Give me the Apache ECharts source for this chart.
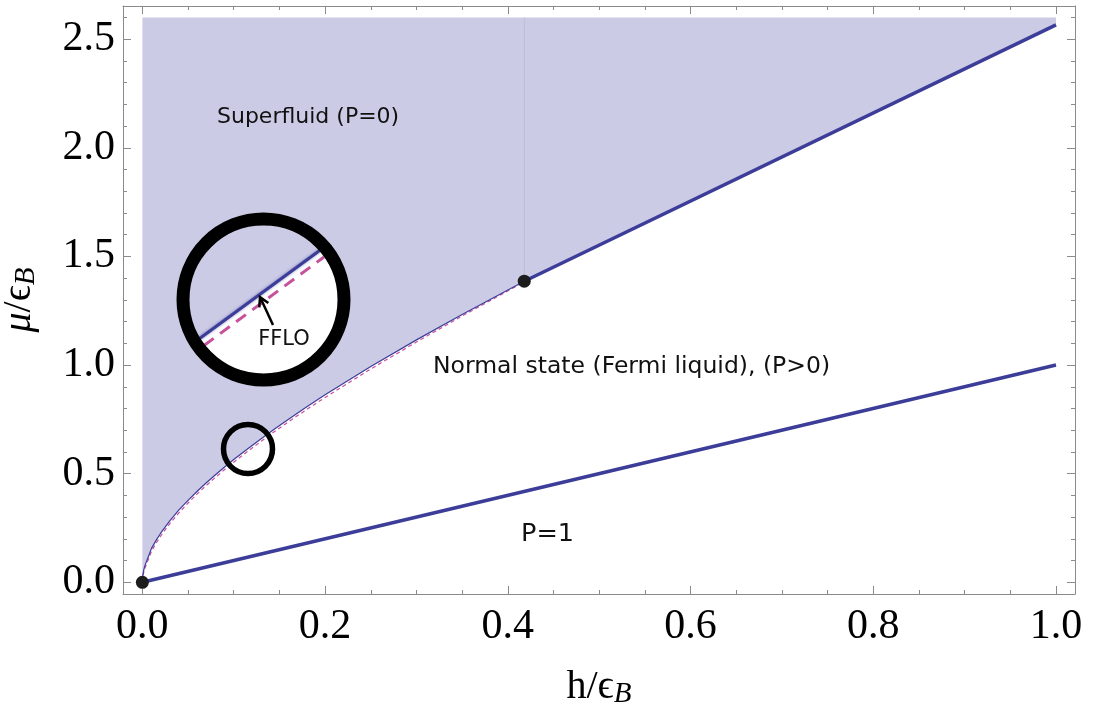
<!DOCTYPE html>
<html>
<head>
<meta charset="utf-8">
<script src="https://cdn.jsdelivr.net/npm/echarts@6/dist/echarts.min.js"></script>
<style>
  html, body { margin: 0; padding: 0; background: #fff; }
  #phaseChart { width: 1098px; height: 715px; }
</style>
</head>
<body>
<div id="phaseChart"></div>
<script>
// superfluid / normal boundary, thin part up to the black dot
const boundaryH = [0, 0.0003, 0.001, 0.002, 0.003, 0.006, 0.01, 0.015, 0.02, 0.03, 0.04, 0.05, 0.06, 0.07, 0.08, 0.09, 0.1, 0.115, 0.13, 0.145, 0.16, 0.18, 0.2, 0.25, 0.3, 0.35, 0.418];
const boundaryMu = [0, 0.025, 0.046, 0.065, 0.079, 0.112, 0.156, 0.193, 0.226, 0.283, 0.333, 0.377, 0.419, 0.458, 0.495, 0.531, 0.565, 0.614, 0.661, 0.707, 0.751, 0.808, 0.863, 0.993, 1.116, 1.233, 1.386];
// FFLO line (pink dashed), just under the boundary
const ffloH = [0, 0.0003, 0.001, 0.002, 0.003, 0.006, 0.01, 0.015, 0.02, 0.03, 0.04, 0.05, 0.06, 0.07, 0.08, 0.09, 0.1, 0.115, 0.13, 0.145, 0.16, 0.18, 0.2, 0.25, 0.3, 0.35, 0.418];
const ffloMu = [0, 0.018, 0.036, 0.054, 0.067, 0.1, 0.143, 0.18, 0.213, 0.27, 0.32, 0.365, 0.407, 0.446, 0.483, 0.519, 0.553, 0.602, 0.649, 0.695, 0.739, 0.796, 0.851, 0.982, 1.106, 1.226, 1.383];
// first order line (thick), from the dot to h = 1
const firstOrderH = [0.418, 1.0];
const firstOrderMu = [1.386, 2.566];
// fully polarized line P = 1
const polarizedH = [0, 1.0];
const polarizedMu = [0, 1.0];
// black dots
const dotH = [0, 0.418];
const dotMu = [0, 1.386];
const muTop = 2.6;

const xMajor = [0, 0.2, 0.4, 0.6, 0.8, 1.0];
const xMinor = [0.05, 0.1, 0.15, 0.25, 0.3, 0.35, 0.45, 0.5, 0.55, 0.65, 0.7, 0.75, 0.85, 0.9, 0.95];
const yMajor = [0, 0.5, 1.0, 1.5, 2.0, 2.5];
const yMinor = [0.1, 0.2, 0.3, 0.4, 0.6, 0.7, 0.8, 0.9, 1.1, 1.2, 1.3, 1.4, 1.6, 1.7, 1.8, 1.9, 2.1, 2.2, 2.3, 2.4, 2.6];

const pairs = (xs, ys) => xs.map((x, i) => [x, ys[i]]);

const blue = '#3c3d99';
const pink = '#c9509c';
const frameColor = '#8a8a8a';
const serif = 'Liberation Serif';

const xRange = { min: -0.0212, max: 1.0208 };
const yRange = { min: -0.0539, max: 2.653 };

function frameAxis(pos, ticks, len, showLine, showLabel) {
  const horiz = pos === 'bottom' || pos === 'top';
  return {
    type: 'value',
    position: pos,
    min: horiz ? xRange.min : yRange.min,
    max: horiz ? xRange.max : yRange.max,
    axisLine: { show: showLine, onZero: false, lineStyle: { color: frameColor, width: 1 } },
    axisTick: { show: true, inside: true, length: len, customValues: ticks, lineStyle: { color: frameColor, width: 1 } },
    axisLabel: {
      show: showLabel,
      customValues: ticks,
      formatter: v => v.toFixed(1),
      fontFamily: serif,
      fontSize: 42,
      color: '#000',
      margin: pos === 'bottom' ? 12 : 8
    },
    splitLine: { show: false },
    minorTick: { show: false }
  };
}

// white part of the magnified inset: chord along the boundary, then arc back
function insetSegment(cx, cy, r, a0, a1) {
  const pts = [];
  for (let k = 0; k <= 40; k++) {
    const a = a0 + (a1 - a0) * k / 40;
    pts.push([cx + r * Math.cos(a), cy + r * Math.sin(a)]);
  }
  return pts;
}

const chart = echarts.init(document.getElementById('phaseChart'));

const xMain = frameAxis('bottom', xMajor, 8, true, true);
xMain.name = '{n|h/ϵ}{s|B}';
xMain.nameLocation = 'middle';
xMain.nameGap = 72;
xMain.nameTextStyle = {
  rich: {
    n: { fontFamily: serif, fontSize: 40, color: '#000' },
    s: { fontFamily: serif, fontSize: 29, fontStyle: 'italic', color: '#000', padding: [14, 0, 0, 0] }
  }
};

const yMain = frameAxis('left', yMajor, 8, true, true);
yMain.name = '{m|μ}{n|/ϵ}{s|B}';
yMain.nameLocation = 'middle';
yMain.nameGap = 82;
yMain.nameTextStyle = {
  rich: {
    m: { fontFamily: serif, fontSize: 40, fontStyle: 'italic', color: '#000' },
    n: { fontFamily: serif, fontSize: 40, color: '#000' },
    s: { fontFamily: serif, fontSize: 29, fontStyle: 'italic', color: '#000', padding: [14, 0, 0, 0] }
  }
};

const insetCx = 263.5, insetCy = 299.5;
const a1 = Math.atan2(250.7 - insetCy, 319.3 - insetCx);
const a2 = Math.atan2(338.3 - insetCy, 200 - insetCx);

const option = {
  animation: false,
  backgroundColor: '#fff',
  grid: { left: 123, right: 23, top: 6, bottom: 121, outerBoundsMode: 'none' },
  xAxis: [
    xMain,
    frameAxis('bottom', xMinor, 4, false, false),
    frameAxis('top', xMajor, 8, true, false),
    frameAxis('top', xMinor, 4, false, false)
  ],
  yAxis: [
    yMain,
    frameAxis('left', yMinor, 4, false, false),
    frameAxis('right', yMajor, 8, true, false),
    frameAxis('right', yMinor, 4, false, false)
  ],
  series: [
    {
      name: 'superfluid',
      type: 'line',
      data: pairs(boundaryH.concat(firstOrderH.slice(1)), boundaryMu.concat(firstOrderMu.slice(1))),
      showSymbol: false,
      lineStyle: { width: 0 },
      areaStyle: { color: '#cbcbe6', opacity: 1, origin: muTop },
      z: 1
    },
    {
      name: 'seam',
      type: 'line',
      data: [[firstOrderH[0], firstOrderMu[0]], [firstOrderH[0], muTop]],
      showSymbol: false,
      lineStyle: { color: '#bdbcd9', width: 1 },
      z: 2
    },
    {
      name: 'FFLO',
      type: 'line',
      data: pairs(ffloH, ffloMu),
      showSymbol: false,
      lineStyle: { color: pink, width: 1.2, type: [4, 3] },
      z: 3
    },
    {
      name: 'boundary',
      type: 'line',
      data: pairs(boundaryH, boundaryMu),
      showSymbol: false,
      lineStyle: { color: blue, width: 1.2 },
      z: 4
    },
    {
      name: 'first order',
      type: 'line',
      data: pairs(firstOrderH, firstOrderMu),
      showSymbol: false,
      lineStyle: { color: blue, width: 3.5 },
      z: 4
    },
    {
      name: 'P=1',
      type: 'line',
      data: pairs(polarizedH, polarizedMu),
      showSymbol: false,
      lineStyle: { color: blue, width: 3.5 },
      z: 4
    },
    {
      name: 'points',
      type: 'scatter',
      data: pairs(dotH, dotMu),
      symbolSize: 13,
      itemStyle: { color: '#1c1c1c', opacity: 1 },
      z: 5
    }
  ],
  graphic: [
    { type: 'text', z: 50, style: { text: 'Superfluid (P=0)', x: 217, y: 117, verticalAlign: 'middle', font: '22px "DejaVu Sans"', fill: '#111' } },
    { type: 'text', z: 50, style: { text: 'Normal state (Fermi liquid), (P>0)', x: 433, y: 367, verticalAlign: 'middle', font: '23.5px "DejaVu Sans"', fill: '#111' } },
    { type: 'text', z: 50, style: { text: 'P=1', x: 521, y: 534, verticalAlign: 'middle', font: '25.5px "DejaVu Sans"', fill: '#111' } },
    // small circle round the FFLO region
    { type: 'circle', z: 50, shape: { cx: 248, cy: 449, r: 24.5 }, style: { fill: 'none', stroke: '#000', lineWidth: 5.5 } },
    // magnified inset
    { type: 'polygon', z: 50, shape: { points: insetSegment(insetCx, insetCy, 75, a1, a2) }, style: { fill: '#ffffff' } },
    { type: 'line', z: 51, shape: { x1: 204, y1: 345.5, x2: 324, y2: 257 }, style: { stroke: pink, lineWidth: 3, lineDash: [12, 8] } },
    { type: 'line', z: 52, shape: { x1: 200, y1: 338.3, x2: 319.3, y2: 250.7 }, style: { stroke: blue, lineWidth: 3, shadowBlur: 3, shadowColor: 'rgba(60,61,153,0.6)' } },
    { type: 'line', z: 53, shape: { x1: 273, y1: 325, x2: 260.5, y2: 298 }, style: { stroke: '#000', lineWidth: 2.5 } },
    { type: 'polyline', z: 53, shape: { points: [[268.3, 303.1], [260, 297], [259.3, 307.3]] }, style: { fill: 'none', stroke: '#000', lineWidth: 2.5 } },
    { type: 'text', z: 53, style: { text: 'FFLO', x: 284, y: 340, align: 'center', verticalAlign: 'middle', font: '21px "DejaVu Sans"', fill: '#111' } },
    { type: 'circle', z: 54, shape: { cx: insetCx, cy: insetCy, r: 80.5 }, style: { fill: 'none', stroke: '#000', lineWidth: 13 } }
  ]
};

chart.setOption(option);
</script>
</body>
</html>
